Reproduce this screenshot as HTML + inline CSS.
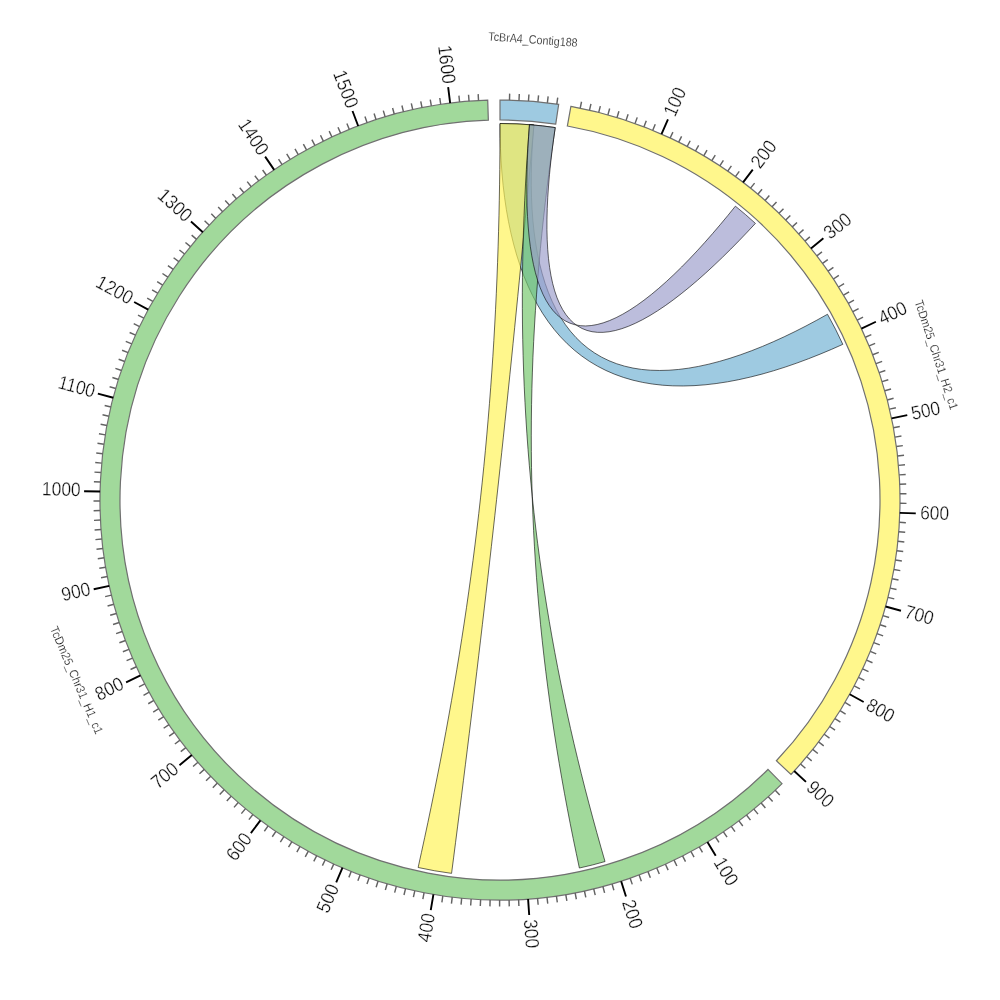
<!DOCTYPE html>
<html lang="en"><head><meta charset="utf-8"><title>Circos synteny plot</title>
<style>html,body{margin:0;padding:0;background:#fff}svg{display:block}</style></head>
<body>
<svg width="1000" height="1000" viewBox="0 0 1000 1000">
<rect width="1000" height="1000" fill="#fff"/>
<g>
<path d="M 500 123.5 A 376.5 376.5 0 0 1 533.93 125.03 L 532.93 137.22 L 532.14 149.43 L 531.59 161.62 L 531.3 173.75 L 531.27 185.76 L 531.52 197.64 L 532.07 209.33 L 532.92 220.81 L 534.1 232.04 L 535.61 242.99 L 537.46 253.62 L 539.66 263.92 L 542.22 273.85 L 545.13 283.38 L 548.42 292.51 L 552.07 301.2 L 556.1 309.43 L 560.5 317.19 L 565.28 324.46 L 570.43 331.23 L 575.95 337.49 L 581.84 343.22 L 588.1 348.41 L 594.71 353.06 L 601.68 357.16 L 609 360.72 L 616.65 363.72 L 624.62 366.17 L 632.92 368.06 L 641.51 369.41 L 650.4 370.21 L 659.56 370.48 L 668.98 370.22 L 678.65 369.44 L 688.54 368.16 L 698.64 366.39 L 708.92 364.14 L 719.37 361.43 L 729.96 358.29 L 740.68 354.73 L 751.48 350.77 L 762.36 346.44 L 773.28 341.76 L 784.21 336.77 L 795.13 331.49 L 806.01 325.96 L 816.81 320.2 L 827.49 314.26 A 376.5 376.5 0 0 1 842.82 344.35 L 831.47 349.38 L 819.99 354.2 L 808.43 358.78 L 796.81 363.09 L 785.16 367.1 L 773.51 370.79 L 761.89 374.13 L 750.31 377.09 L 738.82 379.67 L 727.42 381.83 L 716.15 383.56 L 705.02 384.84 L 694.06 385.65 L 683.28 385.99 L 672.71 385.84 L 662.36 385.19 L 652.25 384.03 L 642.4 382.35 L 632.81 380.16 L 623.51 377.44 L 614.5 374.19 L 605.8 370.42 L 597.41 366.12 L 589.35 361.3 L 581.63 355.95 L 574.25 350.1 L 567.21 343.73 L 560.53 336.87 L 554.21 329.53 L 548.25 321.7 L 542.65 313.42 L 537.42 304.7 L 532.55 295.54 L 528.04 285.98 L 523.89 276.03 L 520.1 265.71 L 516.67 255.05 L 513.58 244.07 L 510.83 232.8 L 508.43 221.27 L 506.34 209.5 L 504.58 197.54 L 503.12 185.4 L 501.96 173.14 L 501.08 160.78 L 500.47 148.36 L 500.11 135.92 L 500 123.5 Z" fill="rgb(110,176,210)" fill-opacity="0.667" stroke="#000" stroke-opacity="0.85" stroke-width="0.7" stroke-linejoin="round"/>
<path d="M 500 123.5 A 376.5 376.5 0 0 1 533.93 125.03 L 532.51 140.58 L 531.09 156.14 L 529.66 171.71 L 528.21 187.29 L 526.76 202.87 L 525.29 218.46 L 523.81 234.05 L 522.31 249.65 L 520.81 265.25 L 519.29 280.86 L 517.76 296.47 L 516.21 312.09 L 514.65 327.71 L 513.08 343.33 L 511.5 358.96 L 509.9 374.58 L 508.28 390.21 L 506.66 405.84 L 505.01 421.47 L 503.36 437.1 L 501.69 452.74 L 500 468.37 L 498.31 484 L 496.59 499.63 L 494.87 515.25 L 493.12 530.88 L 491.37 546.5 L 489.6 562.12 L 487.82 577.74 L 486.02 593.35 L 484.21 608.96 L 482.39 624.57 L 480.55 640.17 L 478.7 655.76 L 476.84 671.35 L 474.96 686.94 L 473.07 702.52 L 471.17 718.09 L 469.26 733.66 L 467.34 749.21 L 465.4 764.76 L 463.46 780.31 L 461.5 795.84 L 459.54 811.37 L 457.56 826.88 L 455.57 842.39 L 453.58 857.89 L 451.57 873.37 A 376.5 376.5 0 0 1 418.13 867.49 L 421.42 852.57 L 424.67 837.59 L 427.88 822.56 L 431.03 807.47 L 434.14 792.34 L 437.18 777.15 L 440.18 761.92 L 443.11 746.65 L 445.97 731.33 L 448.78 715.97 L 451.52 700.57 L 454.19 685.14 L 456.8 669.67 L 459.33 654.17 L 461.79 638.64 L 464.18 623.08 L 466.49 607.5 L 468.73 591.89 L 470.89 576.26 L 472.98 560.61 L 474.99 544.94 L 476.91 529.26 L 478.76 513.56 L 480.53 497.86 L 482.22 482.14 L 483.83 466.42 L 485.36 450.69 L 486.81 434.96 L 488.17 419.24 L 489.46 403.51 L 490.67 387.79 L 491.8 372.07 L 492.86 356.37 L 493.83 340.67 L 494.73 324.99 L 495.55 309.33 L 496.3 293.68 L 496.97 278.06 L 497.57 262.46 L 498.1 246.88 L 498.56 231.34 L 498.96 215.82 L 499.29 200.34 L 499.55 184.89 L 499.75 169.48 L 499.89 154.11 L 499.97 138.78 L 500 123.5 Z" fill="rgb(255,243,83)" fill-opacity="0.667" stroke="#000" stroke-opacity="0.85" stroke-width="0.7" stroke-linejoin="round"/>
<path d="M 529.47 124.66 A 376.5 376.5 0 0 1 555.23 127.57 L 553.07 142.44 L 550.99 157.38 L 548.99 172.41 L 547.08 187.5 L 545.27 202.66 L 543.55 217.89 L 541.93 233.18 L 540.41 248.53 L 539 263.93 L 537.7 279.38 L 536.52 294.88 L 535.45 310.42 L 534.5 326 L 533.66 341.62 L 532.95 357.27 L 532.37 372.95 L 531.91 388.65 L 531.57 404.37 L 531.37 420.11 L 531.29 435.87 L 531.35 451.63 L 531.53 467.4 L 531.85 483.17 L 532.3 498.95 L 532.88 514.72 L 533.59 530.48 L 534.43 546.23 L 535.4 561.96 L 536.51 577.67 L 537.73 593.37 L 539.09 609.04 L 540.57 624.67 L 542.18 640.28 L 543.91 655.85 L 545.76 671.38 L 547.72 686.86 L 549.8 702.3 L 552 717.69 L 554.3 733.03 L 556.71 748.3 L 559.22 763.52 L 561.83 778.67 L 564.54 793.76 L 567.34 808.77 L 570.23 823.71 L 573.2 838.57 L 576.25 853.35 L 579.37 868.04 A 376.5 376.5 0 0 0 605.04 861.55 L 600.89 847.12 L 596.81 832.59 L 592.81 817.98 L 588.88 803.28 L 585.03 788.5 L 581.27 773.65 L 577.61 758.72 L 574.03 743.72 L 570.56 728.65 L 567.19 713.51 L 563.93 698.32 L 560.77 683.06 L 557.73 667.75 L 554.8 652.39 L 551.99 636.98 L 549.3 621.53 L 546.73 606.03 L 544.28 590.5 L 541.96 574.93 L 539.76 559.33 L 537.7 543.7 L 535.76 528.05 L 533.96 512.38 L 532.28 496.69 L 530.74 480.99 L 529.32 465.27 L 528.04 449.56 L 526.9 433.83 L 525.88 418.11 L 524.99 402.4 L 524.23 386.69 L 523.6 371 L 523.1 355.32 L 522.73 339.66 L 522.48 324.02 L 522.35 308.41 L 522.34 292.84 L 522.46 277.29 L 522.69 261.79 L 523.03 246.33 L 523.48 230.91 L 524.04 215.55 L 524.71 200.24 L 525.47 184.99 L 526.34 169.8 L 527.29 154.68 L 528.34 139.63 L 529.47 124.66 Z" fill="rgb(114,198,105)" fill-opacity="0.667" stroke="#000" stroke-opacity="0.85" stroke-width="0.7" stroke-linejoin="round"/>
<path d="M 529.47 124.66 A 376.5 376.5 0 0 1 555.23 127.57 L 553.55 139.39 L 552.02 151.21 L 550.66 162.95 L 549.49 174.59 L 548.52 186.07 L 547.76 197.35 L 547.24 208.39 L 546.97 219.14 L 546.94 229.58 L 547.19 239.66 L 547.71 249.34 L 548.51 258.61 L 549.61 267.43 L 551 275.77 L 552.7 283.6 L 554.71 290.92 L 557.03 297.69 L 559.66 303.89 L 562.61 309.51 L 565.88 314.54 L 569.46 318.96 L 573.36 322.77 L 577.57 325.95 L 582.09 328.5 L 586.91 330.42 L 592.02 331.7 L 597.43 332.35 L 603.12 332.37 L 609.09 331.76 L 615.32 330.53 L 621.8 328.69 L 628.53 326.25 L 635.48 323.23 L 642.65 319.63 L 650.02 315.49 L 657.58 310.81 L 665.3 305.63 L 673.17 299.96 L 681.17 293.82 L 689.29 287.26 L 697.49 280.3 L 705.76 272.97 L 714.07 265.31 L 722.4 257.36 L 730.73 249.14 L 739.03 240.72 L 747.27 232.12 L 755.42 223.39 A 376.5 376.5 0 0 0 735.4 206.17 L 727.88 215.44 L 720.27 224.6 L 712.58 233.59 L 704.85 242.36 L 697.1 250.88 L 689.34 259.11 L 681.61 267 L 673.92 274.52 L 666.29 281.63 L 658.74 288.31 L 651.29 294.52 L 643.96 300.23 L 636.76 305.42 L 629.7 310.08 L 622.81 314.16 L 616.09 317.67 L 609.56 320.57 L 603.23 322.86 L 597.1 324.52 L 591.21 325.55 L 585.54 325.94 L 580.11 325.67 L 574.92 324.75 L 569.99 323.17 L 565.32 320.95 L 560.91 318.07 L 556.77 314.55 L 552.9 310.39 L 549.3 305.6 L 545.98 300.2 L 542.93 294.2 L 540.15 287.61 L 537.65 280.46 L 535.42 272.76 L 533.46 264.54 L 531.77 255.82 L 530.33 246.64 L 529.15 237.01 L 528.21 226.97 L 527.52 216.57 L 527.06 205.82 L 526.82 194.78 L 526.8 183.47 L 526.98 171.95 L 527.35 160.26 L 527.89 148.45 L 528.61 136.56 L 529.47 124.66 Z" fill="rgb(155,156,203)" fill-opacity="0.667" stroke="#000" stroke-opacity="0.85" stroke-width="0.7" stroke-linejoin="round"/>
</g>
<g>
<path d="M 500 100 A 400 400 0 0 1 558.68 104.33 L 555.74 124.11 A 380 380 0 0 0 500 120 Z" fill="#9ecae1" stroke="#707070" stroke-width="1.2" stroke-linejoin="miter"/>
<path d="M 570.89 106.33 A 400 400 0 0 1 790.95 774.5 L 776.4 760.77 A 380 380 0 0 0 567.35 126.02 Z" fill="#fff78c" stroke="#707070" stroke-width="1.2" stroke-linejoin="miter"/>
<path d="M 782.05 783.63 A 400 400 0 1 1 487.72 100.19 L 488.34 120.18 A 380 380 0 1 0 767.95 769.45 Z" fill="#a1d99b" stroke="#707070" stroke-width="1.2" stroke-linejoin="miter"/>
</g>
<path d="M 509.5 100.11 L 509.65 93.61 M 518.99 100.45 L 519.3 93.96 M 528.47 101.01 L 528.93 94.53 M 537.94 101.8 L 538.55 95.33 M 547.38 102.82 L 548.15 96.36 M 556.8 104.05 L 557.72 97.62 M 580.22 108.13 L 581.52 101.76 M 589.5 110.14 L 590.95 103.81 M 598.73 112.38 L 600.33 106.08 M 607.9 114.83 L 609.66 108.57 M 617.02 117.5 L 618.92 111.28 M 626.07 120.39 L 628.12 114.22 M 635.05 123.49 L 637.24 117.37 M 643.95 126.8 L 646.29 120.73 M 652.77 130.32 L 655.25 124.31 M 670.14 137.99 L 672.91 132.11 M 678.69 142.13 L 681.6 136.32 M 687.14 146.48 L 690.18 140.73 M 695.48 151.02 L 698.66 145.35 M 703.71 155.76 L 707.02 150.16 M 711.83 160.69 L 715.27 155.18 M 719.82 165.82 L 723.39 160.39 M 727.7 171.13 L 731.4 165.79 M 735.44 176.63 L 739.27 171.37 M 750.53 188.17 L 754.6 183.1 M 757.86 194.21 L 762.05 189.24 M 765.05 200.42 L 769.35 195.55 M 772.08 206.79 L 776.51 202.03 M 778.97 213.34 L 783.5 208.68 M 785.7 220.04 L 790.34 215.49 M 792.26 226.9 L 797.01 222.46 M 798.67 233.92 L 803.52 229.59 M 804.9 241.09 L 809.85 236.88 M 816.85 255.85 L 821.99 251.88 M 822.55 263.44 L 827.79 259.6 M 828.08 271.17 L 833.41 267.45 M 833.42 279.02 L 838.84 275.43 M 838.57 287 L 844.07 283.54 M 843.53 295.1 L 849.12 291.77 M 848.3 303.31 L 853.96 300.12 M 852.87 311.64 L 858.61 308.58 M 857.25 320.07 L 863.05 317.15 M 865.39 337.23 L 871.32 334.59 M 869.15 345.95 L 875.15 343.45 M 872.7 354.76 L 878.76 352.4 M 876.04 363.65 L 882.15 361.44 M 879.18 372.62 L 885.34 370.55 M 882.09 381.66 L 888.3 379.73 M 884.8 390.76 L 891.05 388.99 M 887.28 399.93 L 893.57 398.3 M 889.55 409.15 L 895.88 407.68 M 893.42 427.75 L 899.81 426.57 M 895.03 437.11 L 901.44 436.09 M 896.41 446.51 L 902.85 445.64 M 897.57 455.93 L 904.03 455.22 M 898.5 465.39 L 904.98 464.82 M 899.21 474.86 L 905.7 474.45 M 899.69 484.34 L 906.19 484.09 M 899.95 493.84 L 906.45 493.74 M 899.99 503.33 L 906.49 503.39 M 899.38 522.32 L 905.87 522.68 M 898.73 531.79 L 905.21 532.31 M 897.87 541.25 L 904.33 541.92 M 896.78 550.69 L 903.22 551.51 M 895.46 560.09 L 901.89 561.07 M 893.92 569.47 L 900.32 570.6 M 892.16 578.8 L 898.53 580.08 M 890.18 588.09 L 896.52 589.52 M 887.98 597.33 L 894.28 598.91 M 882.92 615.64 L 889.14 617.52 M 880.07 624.7 L 886.24 626.72 M 877 633.68 L 883.13 635.86 M 873.72 642.6 L 879.79 644.92 M 870.23 651.43 L 876.24 653.89 M 866.53 660.18 L 872.48 662.78 M 862.62 668.84 L 868.51 671.58 M 858.51 677.4 L 864.34 680.28 M 854.2 685.86 L 859.95 688.88 M 844.98 702.47 L 850.58 705.76 M 840.07 710.6 L 845.6 714.02 M 834.97 718.61 L 840.42 722.17 M 829.69 726.51 L 835.05 730.19 M 824.22 734.27 L 829.49 738.08 M 818.57 741.9 L 823.74 745.83 M 812.73 749.4 L 817.81 753.45 M 806.72 756.75 L 811.71 760.92 M 800.54 763.96 L 805.42 768.25 M 775.24 790.25 L 779.71 794.96 M 768.27 796.7 L 772.63 801.52 M 761.15 802.99 L 765.39 807.91 M 753.88 809.1 L 758.01 814.13 M 746.47 815.04 L 750.48 820.16 M 738.92 820.81 L 742.8 826.02 M 731.24 826.39 L 734.99 831.69 M 723.42 831.79 L 727.05 837.18 M 715.48 837 L 718.98 842.47 M 699.24 846.85 L 702.48 852.48 M 690.95 851.48 L 694.05 857.19 M 682.55 855.91 L 685.52 861.7 M 674.05 860.15 L 676.88 866 M 665.45 864.18 L 668.14 870.1 M 656.76 868.01 L 659.3 873.99 M 647.97 871.62 L 650.38 877.66 M 639.11 875.03 L 641.37 881.13 M 630.16 878.23 L 632.28 884.38 M 612.06 883.98 L 613.88 890.22 M 602.91 886.53 L 604.59 892.82 M 593.71 888.87 L 595.23 895.19 M 584.45 890.98 L 585.82 897.34 M 575.14 892.88 L 576.36 899.26 M 565.79 894.55 L 566.86 900.96 M 556.41 896 L 557.32 902.44 M 546.99 897.23 L 547.75 903.69 M 537.54 898.23 L 538.15 904.71 M 518.6 899.57 L 518.9 906.06 M 509.1 899.9 L 509.25 906.39 M 499.61 900 L 499.6 906.5 M 490.11 899.88 L 489.95 906.38 M 480.62 899.53 L 480.3 906.02 M 471.14 898.96 L 470.67 905.44 M 461.67 898.16 L 461.05 904.63 M 452.23 897.14 L 451.45 903.59 M 442.81 895.89 L 441.88 902.32 M 424.08 892.73 L 422.85 899.11 M 414.78 890.82 L 413.4 897.17 M 405.53 888.68 L 403.99 895 M 396.32 886.33 L 394.64 892.61 M 387.18 883.76 L 385.35 890 M 378.1 880.97 L 376.12 887.16 M 369.09 877.97 L 366.96 884.11 M 360.15 874.76 L 357.88 880.85 M 351.29 871.33 L 348.88 877.36 M 333.83 863.85 L 331.13 869.77 M 325.24 859.8 L 322.4 865.65 M 316.75 855.55 L 313.77 861.33 M 308.36 851.1 L 305.24 856.81 M 300.08 846.45 L 296.83 852.08 M 291.91 841.61 L 288.52 847.16 M 283.85 836.57 L 280.34 842.04 M 275.92 831.35 L 272.28 836.73 M 268.12 825.93 L 264.35 831.23 M 252.91 814.56 L 248.89 819.67 M 245.51 808.6 L 241.37 813.62 M 238.25 802.47 L 234 807.39 M 231.15 796.17 L 226.78 800.98 M 224.19 789.7 L 219.71 794.41 M 217.39 783.07 L 212.8 787.67 M 210.75 776.28 L 206.05 780.77 M 204.27 769.34 L 199.46 773.72 M 197.96 762.24 L 193.05 766.5 M 185.85 747.61 L 180.74 751.63 M 180.06 740.08 L 174.86 743.98 M 174.45 732.41 L 169.16 736.19 M 169.02 724.62 L 163.64 728.27 M 163.78 716.7 L 158.32 720.22 M 158.73 708.65 L 153.19 712.04 M 153.87 700.49 L 148.25 703.75 M 149.21 692.22 L 143.51 695.34 M 144.75 683.84 L 138.97 686.82 M 136.42 666.76 L 130.51 669.47 M 132.56 658.08 L 126.59 660.65 M 128.91 649.31 L 122.88 651.74 M 125.47 640.46 L 119.39 642.74 M 122.24 631.53 L 116.11 633.67 M 119.23 622.52 L 113.04 624.52 M 116.43 613.45 L 110.19 615.29 M 113.84 604.31 L 107.56 606 M 111.47 595.11 L 105.16 596.66 M 107.4 576.56 L 101.02 577.8 M 105.69 567.22 L 99.28 568.31 M 104.2 557.84 L 97.77 558.78 M 102.94 548.42 L 96.49 549.21 M 101.9 538.98 L 95.43 539.61 M 101.09 529.52 L 94.61 530 M 100.5 520.04 L 94.01 520.36 M 100.14 510.55 L 93.64 510.72 M 100 501.05 L 93.5 501.07 M 100.4 482.06 L 93.91 481.77 M 100.94 472.58 L 94.46 472.13 M 101.7 463.11 L 95.23 462.51 M 102.69 453.66 L 96.24 452.91 M 103.9 444.24 L 97.47 443.34 M 105.34 434.86 L 98.93 433.8 M 107 425.5 L 100.61 424.29 M 108.88 416.19 L 102.52 414.83 M 110.98 406.93 L 104.66 405.42 M 115.83 388.57 L 109.59 386.76 M 118.59 379.48 L 112.39 377.52 M 121.56 370.46 L 115.41 368.35 M 124.74 361.51 L 118.64 359.26 M 128.13 352.64 L 122.09 350.24 M 131.74 343.85 L 125.75 341.31 M 135.55 335.15 L 129.63 332.47 M 139.57 326.54 L 133.71 323.72 M 143.79 318.03 L 138 315.08 M 152.83 301.33 L 147.18 298.1 M 157.64 293.14 L 152.08 289.78 M 162.65 285.07 L 157.17 281.58 M 167.85 277.12 L 162.45 273.5 M 173.23 269.3 L 167.92 265.55 M 178.8 261.61 L 173.58 257.73 M 184.55 254.05 L 179.43 250.05 M 190.48 246.63 L 185.45 242.51 M 196.58 239.35 L 191.65 235.11 M 209.3 225.24 L 204.58 220.77 M 215.91 218.41 L 211.29 213.84 M 222.67 211.75 L 218.17 207.06 M 229.59 205.24 L 225.2 200.45 M 236.67 198.91 L 232.39 194.01 M 243.89 192.74 L 239.73 187.75 M 251.26 186.75 L 247.22 181.66 M 258.77 180.93 L 254.85 175.74 M 266.41 175.29 L 262.61 170.01 M 282.09 164.57 L 278.55 159.12 M 290.11 159.49 L 286.7 153.96 M 298.26 154.6 L 294.98 148.99 M 306.52 149.91 L 303.37 144.22 M 314.88 145.41 L 311.87 139.65 M 323.35 141.12 L 320.48 135.29 M 331.92 137.03 L 329.19 131.13 M 340.59 133.14 L 338 127.18 M 349.35 129.46 L 346.9 123.43 M 367.11 122.72 L 364.95 116.59 M 376.1 119.67 L 374.09 113.49 M 385.17 116.84 L 383.3 110.61 M 394.3 114.22 L 392.58 107.95 M 403.49 111.82 L 401.92 105.51 M 412.73 109.64 L 411.31 103.29 M 422.02 107.67 L 420.75 101.3 M 431.36 105.93 L 430.24 99.53 M 440.73 104.41 L 439.77 97.99 M 459.58 102.05 L 458.92 95.58 M 469.04 101.2 L 468.54 94.72 M 478.52 100.58 L 478.17 94.09" stroke="#636363" stroke-width="1.45" fill="none"/>
<path d="M 661.5 134.05 L 667.96 119.42 M 743.05 182.31 L 752.77 169.6 M 810.96 248.4 L 823.4 238.33 M 861.42 328.6 L 875.87 321.75 M 891.59 418.43 L 907.26 415.16 M 899.79 512.83 L 915.79 513.34 M 885.56 606.51 L 900.98 610.77 M 849.68 694.22 L 863.67 701.99 M 794.19 771.02 L 805.96 781.86 M 707.42 842.02 L 715.72 855.7 M 621.15 881.21 L 625.99 896.46 M 528.08 899.01 L 529.2 914.97 M 433.43 894.42 L 430.77 910.2 M 342.52 867.7 L 336.22 882.4 M 260.45 820.33 L 250.86 833.15 M 191.82 755 L 179.49 765.2 M 140.48 675.35 L 126.1 682.36 M 109.32 585.86 L 93.7 589.29 M 100.09 491.55 L 84.09 491.22 M 113.3 397.72 L 97.83 393.63 M 148.21 309.63 L 134.14 302.01 M 202.86 232.22 L 190.97 221.51 M 274.19 169.84 L 265.15 156.63 M 358.19 125.98 L 352.51 111.02 M 450.14 103.12 L 448.15 87.24" stroke="#000" stroke-width="1.9" fill="none"/>
<g font-family="'Liberation Sans', sans-serif" font-size="19.4" fill="#0d0d0d" stroke="#fff" stroke-width="0.3">
<text dy="0.295em" transform="translate(669.7,115.48) rotate(-66.19) scale(0.9,1)" text-anchor="start">100</text>
<text dy="0.295em" transform="translate(755.39,166.19) rotate(-52.58) scale(0.9,1)" text-anchor="start">200</text>
<text dy="0.295em" transform="translate(826.74,235.63) rotate(-38.98) scale(0.9,1)" text-anchor="start">300</text>
<text dy="0.295em" transform="translate(879.76,319.9) rotate(-25.37) scale(0.9,1)" text-anchor="start">400</text>
<text dy="0.295em" transform="translate(911.47,414.29) rotate(-11.77) scale(0.9,1)" text-anchor="start">500</text>
<text dy="0.295em" transform="translate(920.08,513.48) rotate(1.84) scale(0.9,1)" text-anchor="start">600</text>
<text dy="0.295em" transform="translate(905.13,611.92) rotate(15.44) scale(0.9,1)" text-anchor="start">700</text>
<text dy="0.295em" transform="translate(867.43,704.07) rotate(29.05) scale(0.9,1)" text-anchor="start">800</text>
<text dy="0.295em" transform="translate(809.12,784.78) rotate(42.65) scale(0.9,1)" text-anchor="start">900</text>
<text dy="0.295em" transform="translate(717.95,859.38) rotate(58.77) scale(0.9,1)" text-anchor="start">100</text>
<text dy="0.295em" transform="translate(627.3,900.56) rotate(72.37) scale(0.9,1)" text-anchor="start">200</text>
<text dy="0.295em" transform="translate(529.5,919.26) rotate(85.97) scale(0.9,1)" text-anchor="start">300</text>
<text dy="0.259em" transform="translate(430.2,913.55) rotate(-80.42) scale(0.9,1)" text-anchor="end">400</text>
<text dy="0.259em" transform="translate(334.88,885.53) rotate(-66.81) scale(0.9,1)" text-anchor="end">500</text>
<text dy="0.259em" transform="translate(248.83,835.87) rotate(-53.21) scale(0.9,1)" text-anchor="end">600</text>
<text dy="0.259em" transform="translate(176.87,767.36) rotate(-39.61) scale(0.9,1)" text-anchor="end">700</text>
<text dy="0.259em" transform="translate(123.05,683.85) rotate(-26) scale(0.9,1)" text-anchor="end">800</text>
<text dy="0.259em" transform="translate(90.38,590.02) rotate(-12.39) scale(0.9,1)" text-anchor="end">900</text>
<text dy="0.259em" transform="translate(80.69,491.14) rotate(1.21) scale(0.9,1)" text-anchor="end">1000</text>
<text dy="0.259em" transform="translate(94.54,392.76) rotate(14.81) scale(0.9,1)" text-anchor="end">1100</text>
<text dy="0.259em" transform="translate(131.15,300.39) rotate(28.42) scale(0.9,1)" text-anchor="end">1200</text>
<text dy="0.259em" transform="translate(188.45,219.23) rotate(42.03) scale(0.9,1)" text-anchor="end">1300</text>
<text dy="0.259em" transform="translate(263.23,153.82) rotate(55.63) scale(0.9,1)" text-anchor="end">1400</text>
<text dy="0.259em" transform="translate(351.31,107.84) rotate(69.24) scale(0.9,1)" text-anchor="end">1500</text>
<text dy="0.259em" transform="translate(447.73,83.87) rotate(82.84) scale(0.9,1)" text-anchor="end">1600</text>
</g>
<g font-family="'Liberation Sans', sans-serif" font-size="12.2" fill="#111" text-anchor="middle" stroke="#fff" stroke-width="0.2">
<text dy="0.36em" transform="translate(533,39.28) rotate(4.22)" textLength="89.5" lengthAdjust="spacingAndGlyphs">TcBrA4_Contig188</text>
<text dy="0.36em" transform="translate(936.7,354.82) rotate(71.77)" textLength="114.5" lengthAdjust="spacingAndGlyphs">TcDm25_Chr31_H2_c1</text>
<text dy="0.36em" transform="translate(76.81,680.06) rotate(66.7)" textLength="116" lengthAdjust="spacingAndGlyphs">TcDm25_Chr31_H1_c1</text>
</g>
</svg>
</body></html>
